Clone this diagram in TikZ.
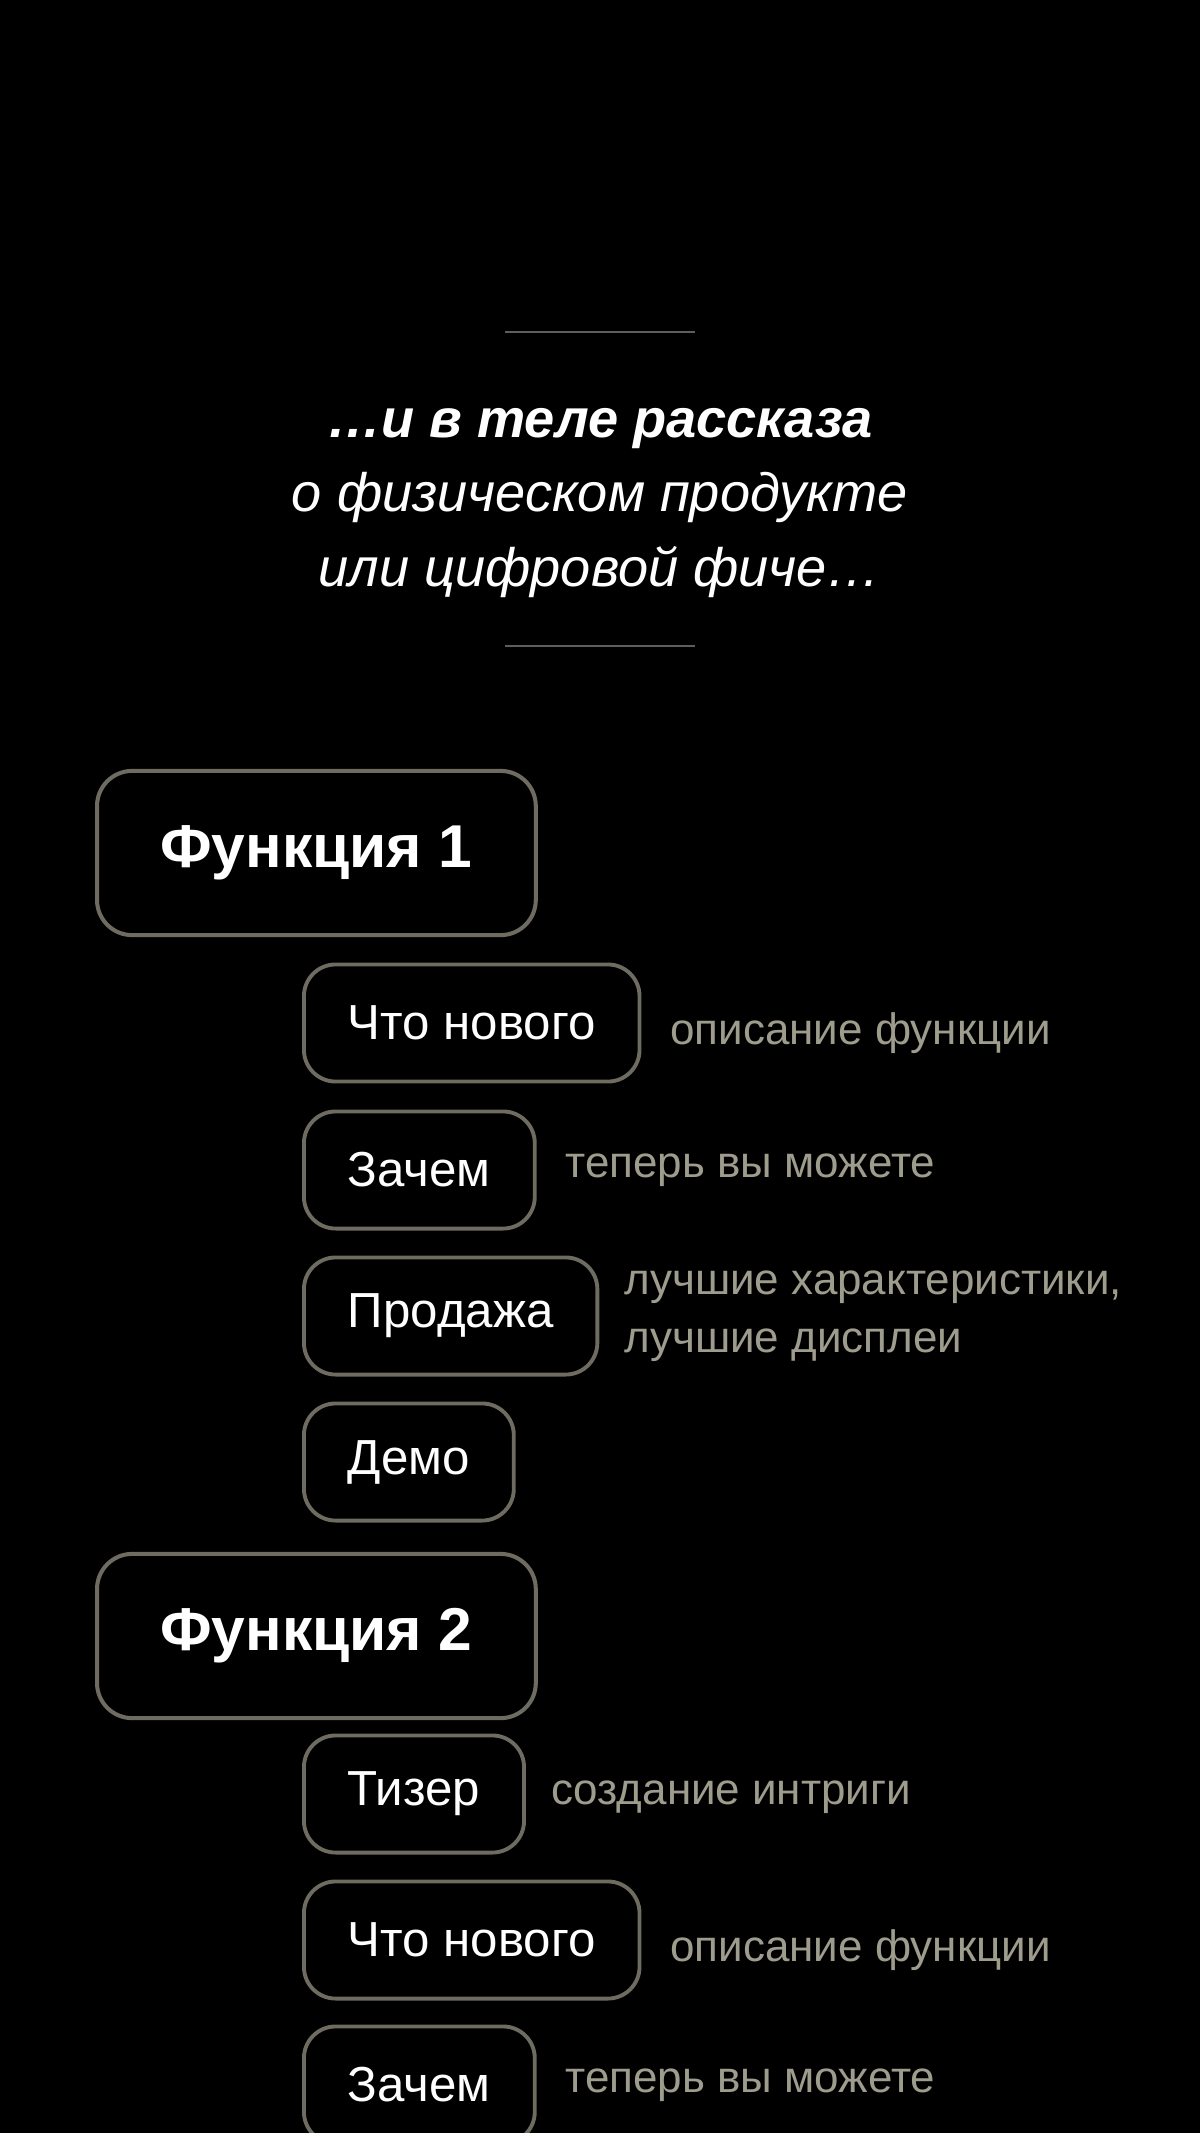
\documentclass[tikz,border=0pt]{standalone}
\usepackage{fontspec}
\setmainfont{Liberation Sans}
\usetikzlibrary{positioning}
\definecolor{boxline}{HTML}{6E6C60}
\definecolor{notegray}{HTML}{9E9C8C}
\definecolor{rulegray}{HTML}{5E5E5E}
\tikzset{
  featbox/.style={draw=boxline, line width=1.15pt, rounded corners=10pt, text=white,
    font=\fontsize{17.2}{20}\selectfont\bfseries, minimum height=46.7pt, inner xsep=18pt, anchor=west},
  stepbox/.style={draw=boxline, line width=1.1pt, rounded corners=9pt, text=white,
    font=\fontsize{14}{16}\selectfont, minimum height=33.3pt, inner xsep=12.5pt, anchor=west},
  notetext/.style={text=notegray, font=\fontsize{12.5}{16.5}\selectfont, align=left, anchor=west, inner sep=0pt}
}
\begin{document}
\begin{tikzpicture}[x=0.01cm, y=-0.01cm]
\useasboundingbox (0,0) rectangle (1200,2133);
\clip (0,0) rectangle (1200,2133);
\fill[black] (0,0) rectangle (1200,2133);
% title between two rules
\draw[rulegray, line width=0.6pt] (505,332) -- (695,332);
\draw[rulegray, line width=0.6pt] (505,646) -- (695,646);
\node[align=center, text=white, font=\fontsize{15.4}{21.3}\selectfont\itshape] (title) at (600,503)
  {\textbf{…и в теле рассказа}\\о физическом продукте\\или цифровой фиче…};
% feature 1
\node[featbox] (feat1) at (95,853) {Функция 1};
\node[stepbox] (new1) at (302,1023) {Что нового};
\node[notetext, right=8pt of new1.east, yshift=-3pt] (new1note) {описание функции};
\node[stepbox] (why1) at (302,1170) {Зачем};
\node[notetext, right=8pt of why1.east] (why1note) {теперь вы можете};
\node[stepbox] (sale1) at (302,1316) {Продажа};
\node[notetext, right=7pt of sale1.east] (sale1note) {лучшие характеристики,\\лучшие дисплеи};
\node[stepbox] (demo1) at (302,1462) {Демо};
% feature 2
\node[featbox] (feat2) at (95,1636) {Функция 2};
\node[stepbox] (teas2) at (302,1794) {Тизер};
\node[notetext, right=7pt of teas2.east, yshift=-1pt] (teas2note) {создание интриги};
\node[stepbox] (new2) at (302,1940) {Что нового};
\node[notetext, right=8pt of new2.east, yshift=-3pt] (new2note) {описание функции};
\node[stepbox] (why2) at (302,2085) {Зачем};
\node[notetext, right=8pt of why2.east] (why2note) {теперь вы можете};
\end{tikzpicture}
\end{document}
